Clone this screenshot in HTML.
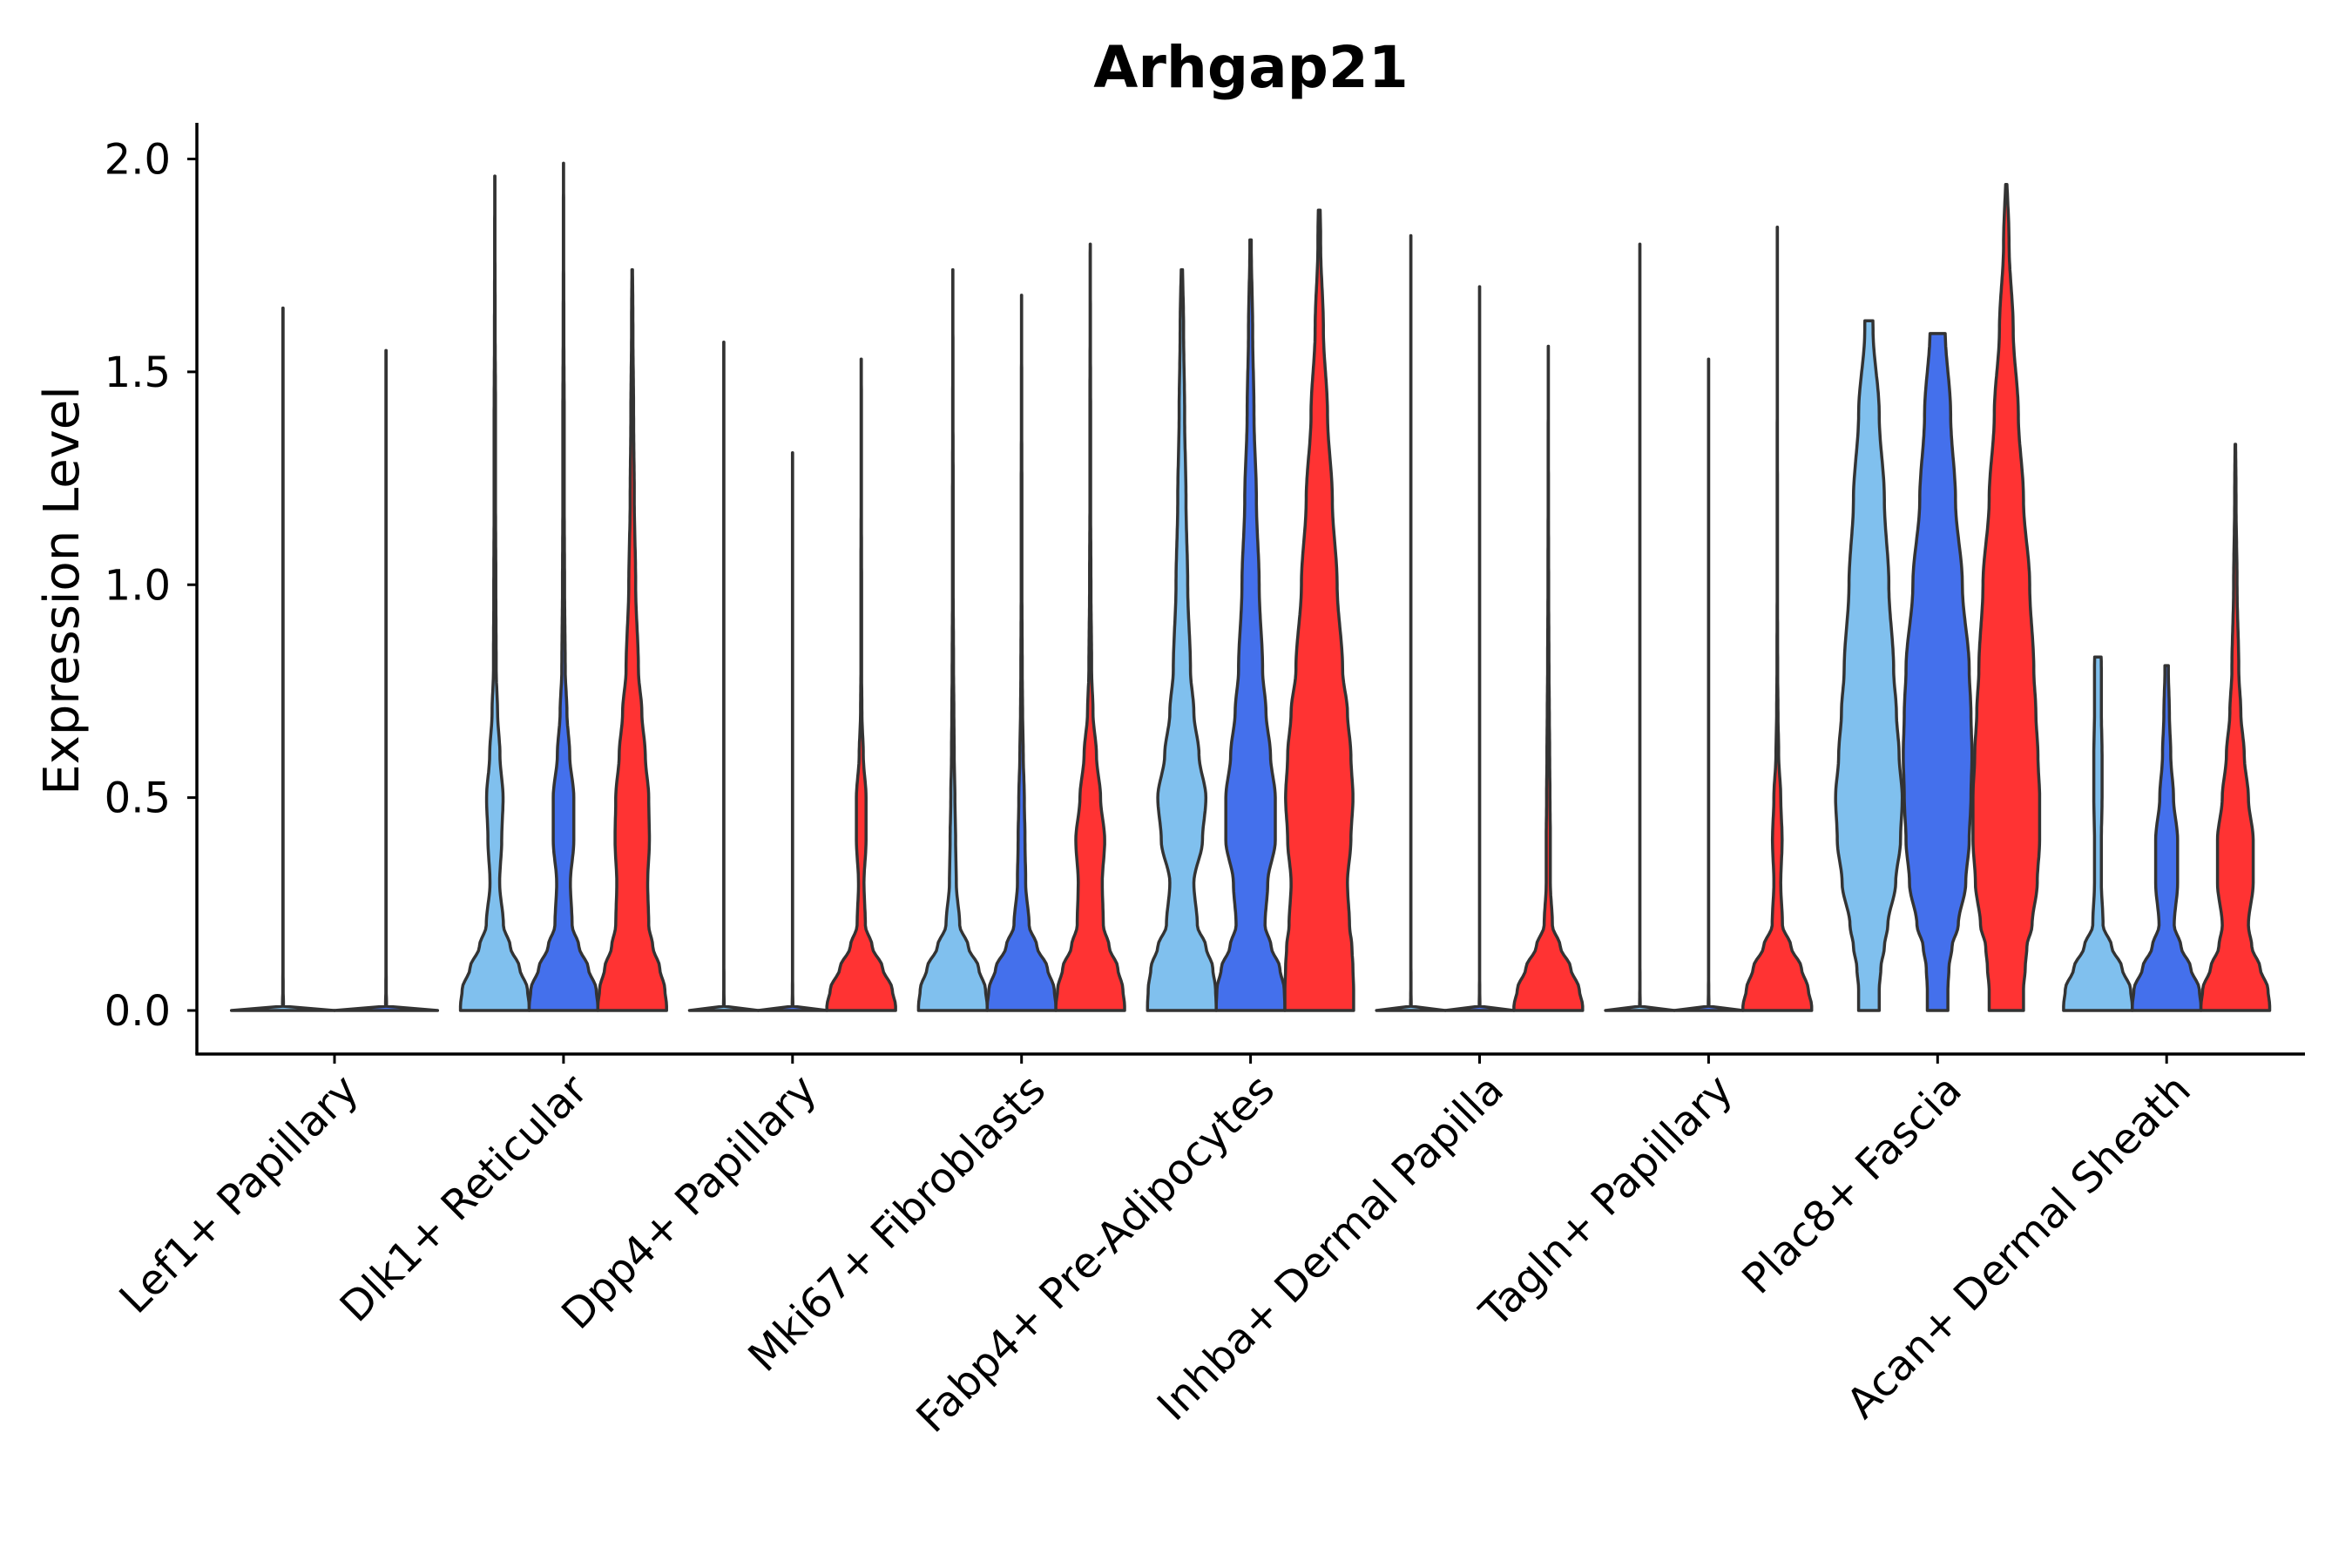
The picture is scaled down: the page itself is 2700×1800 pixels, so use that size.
<!DOCTYPE html>
<html><head><meta charset="utf-8"><style>
html,body{margin:0;padding:0;background:#fff;}
svg{display:block;font-family:"DejaVu Sans","Liberation Sans",sans-serif;}
</style></head><body>
<svg id="chart" width="2700" height="1800" viewBox="0 0 2700 1800" xmlns="http://www.w3.org/2000/svg">
<rect width="2700" height="1800" fill="#fff"/>
<text x="1436" y="100" text-anchor="middle" font-size="66" font-weight="bold" fill="#000">Arhgap21</text>
<text transform="translate(90,678) rotate(-90)" text-anchor="middle" font-size="56" fill="#000">Expression Level</text>
<g id="plot"></g>
</svg>
<script>
const categories = ["Lef1+ Papillary","Dlk1+ Reticular","Dpp4+ Papillary","Mki67+ Fibroblasts","Fabp4+ Pre-Adipocytes","Inhba+ Dermal Papilla","Tagln+ Papillary","Plac8+ Fascia","Acan+ Dermal Sheath"];
const yTicks = [0, 0.5, 1.0, 1.5, 2.0];
const yTickLabels = ["0.0","0.5","1.0","1.5","2.0"];
const levels = [0,0.01,0.05,0.1,0.15,0.2,0.3,0.4,0.5,0.6,0.7,0.8,1.0,1.2,1.4,1.6,1.8,2.0];
const groupCounts = [2,3,3,3,3,3,3,3,3];
const groupNames = ["group-1","group-2","group-3"];
const colors = ["#80C0EE","#4470EC","#FF3333"];
const maxValues = [
  [1.65,1.55],
  [1.96,1.99,1.74],
  [1.57,1.31,1.53],
  [1.74,1.68,1.80],
  [1.74,1.81,1.88],
  [1.82,1.70,1.56],
  [1.80,1.53,1.84],
  [1.62,1.59,1.94],
  [0.83,0.81,1.33]
];
const Z = [1,0.01,0.004,0.003,0.003,0.003,0.003,0.003,0.003,0.003,0.003,0.003,0.003,0.003,0.003,0.003,0.003,0.003];
const densities = [
  [Z, Z],
  [[1,1,0.95,0.72,0.45,0.25,0.14,0.2,0.24,0.15,0.08,0.04,0.03,0.02,0.02,0.01,0.005,0.003],
   [1,1,0.95,0.72,0.45,0.25,0.2,0.3,0.3,0.18,0.1,0.05,0.03,0.02,0.02,0.01,0.005,0.003],
   [1,1,0.95,0.8,0.6,0.48,0.45,0.5,0.48,0.38,0.28,0.18,0.1,0.06,0.04,0.02,0.005,0.003]],
  [Z, Z,
   [1,1,0.9,0.62,0.32,0.12,0.08,0.14,0.14,0.06,0.02,0.01,0.01,0.005,0.005,0.003,0.003,0.003]],
  [[1,1,0.95,0.75,0.45,0.2,0.1,0.08,0.06,0.04,0.03,0.02,0.01,0.01,0.005,0.003,0.003,0.003],
   [1,1,0.95,0.75,0.45,0.22,0.12,0.1,0.08,0.05,0.03,0.02,0.01,0.01,0.005,0.003,0.003,0.003],
   [1,1,0.95,0.8,0.55,0.38,0.35,0.42,0.3,0.18,0.08,0.04,0.02,0.01,0.01,0.005,0.003,0.003]],
  [[1,1,0.98,0.9,0.7,0.45,0.35,0.6,0.7,0.5,0.35,0.25,0.17,0.12,0.08,0.05,0.01,0.003],
   [1,1,0.98,0.85,0.6,0.42,0.5,0.72,0.72,0.58,0.45,0.35,0.25,0.17,0.1,0.06,0.02,0.003],
   [1,1,1,0.98,0.95,0.88,0.82,0.92,0.98,0.92,0.82,0.68,0.52,0.38,0.24,0.12,0.04,0.003]],
  [Z, Z,
   [1,1,0.9,0.65,0.35,0.12,0.06,0.06,0.05,0.04,0.03,0.02,0.01,0.005,0.003,0.003,0.003,0.003]],
  [Z, Z,
   [1,1,0.9,0.7,0.4,0.15,0.1,0.14,0.1,0.04,0.02,0.01,0.005,0.005,0.003,0.003,0.003,0.003]],
  [[0.3,0.3,0.3,0.35,0.45,0.55,0.78,0.92,0.97,0.88,0.8,0.72,0.58,0.45,0.3,0.12,0.003,0.003],
   [0.3,0.3,0.3,0.33,0.42,0.6,0.82,0.92,0.97,1,0.97,0.92,0.72,0.52,0.38,0.22,0.003,0.003],
   [0.5,0.5,0.5,0.55,0.6,0.75,0.9,0.97,0.97,0.92,0.86,0.8,0.68,0.5,0.35,0.2,0.08,0.003]],
  [[1,1,0.95,0.7,0.4,0.15,0.1,0.1,0.12,0.12,0.1,0.1,0.003,0.003,0.003,0.003,0.003,0.003],
   [1,1,0.95,0.7,0.42,0.22,0.32,0.32,0.2,0.12,0.08,0.05,0.003,0.003,0.003,0.003,0.003,0.003],
   [1,1,0.95,0.72,0.48,0.38,0.52,0.52,0.38,0.26,0.16,0.1,0.05,0.02,0.003,0.003,0.003,0.003]]
];

const NS = "http://www.w3.org/2000/svg";
const plot = document.getElementById("plot");
const X0 = 226, X1 = 2646, YAX = 1210, YTOP = 141;
const firstCenter = 384, catStep = 262.9;
function xScale(i){ return firstCenter + i*catStep; }
function yScale(v){ return 1160 - v*(1160-182.5)/2.0; }
function mk(tag, attrs){ const e=document.createElementNS(NS,tag); for(const k in attrs) e.setAttribute(k, attrs[k]); return e; }
function widthAt(d, v){
  for(let k=0;k<levels.length-1;k++){
    if(v>=levels[k] && v<=levels[k+1]){
      const t=(v-levels[k])/(levels[k+1]-levels[k]);
      const s=t*t*(3-2*t);
      return d[k]+(d[k+1]-d[k])*s;
    }
  }
  return d[d.length-1];
}

categories.forEach((cat,i)=>{
  const n = groupCounts[i];
  const slot = 0.9*catStep/n;
  const half = slot/2;
  for(let g=0; g<n; g++){
    const cx = xScale(i) - 0.45*catStep + slot*(g+0.5);
    const maxV = maxValues[i][g];
    const d = densities[i][g];
    const vs=[];
    for(let v=0; v<maxV; v+=0.01){ vs.push(v); }
    vs.push(maxV);
    const right = vs.map(v=>[cx+widthAt(d,v)*half, yScale(v)]);
    const left = vs.slice().reverse().map(v=>[cx-widthAt(d,v)*half, yScale(v)]);
    const all = right.concat(left);
    const path = mk("path",{d:"M"+all.map(p=>p[0].toFixed(1)+","+p[1].toFixed(1)).join("L")+"Z",
      fill: colors[g], stroke:"#333", "stroke-width":"3.5", "stroke-linejoin":"round"});
    
    
    plot.appendChild(path);
  }
});

const yAxis = mk("line",{x1:X0,y1:YTOP,x2:X0,y2:YAX,stroke:"#000","stroke-width":"3.5"});


plot.appendChild(yAxis);
const xAxis = mk("line",{x1:X0-1.7,y1:YAX,x2:X1,y2:YAX,stroke:"#000","stroke-width":"3.5"});


plot.appendChild(xAxis);

yTicks.forEach((v,k)=>{
  const y=yScale(v);
  const t=mk("line",{x1:X0-11,y1:y,x2:X0,y2:y,stroke:"#000","stroke-width":"3"});
  
  
  plot.appendChild(t);
  const l=mk("text",{x:X0-30,y:y+17,"text-anchor":"end","font-size":"48",fill:"#000"});
  l.textContent=yTickLabels[k];
  
  
  plot.appendChild(l);
});

categories.forEach((cat,i)=>{
  const x=xScale(i);
  const t=mk("line",{x1:x,y1:YAX,x2:x,y2:YAX+11,stroke:"#000","stroke-width":"3"});
  
  
  plot.appendChild(t);
  const l=mk("text",{transform:"translate("+(x+30)+","+(YAX+44)+") rotate(-45)","text-anchor":"end","font-size":"48",fill:"#000"});
  l.textContent=cat;
  
  
  plot.appendChild(l);
});
</script>
</body></html>
